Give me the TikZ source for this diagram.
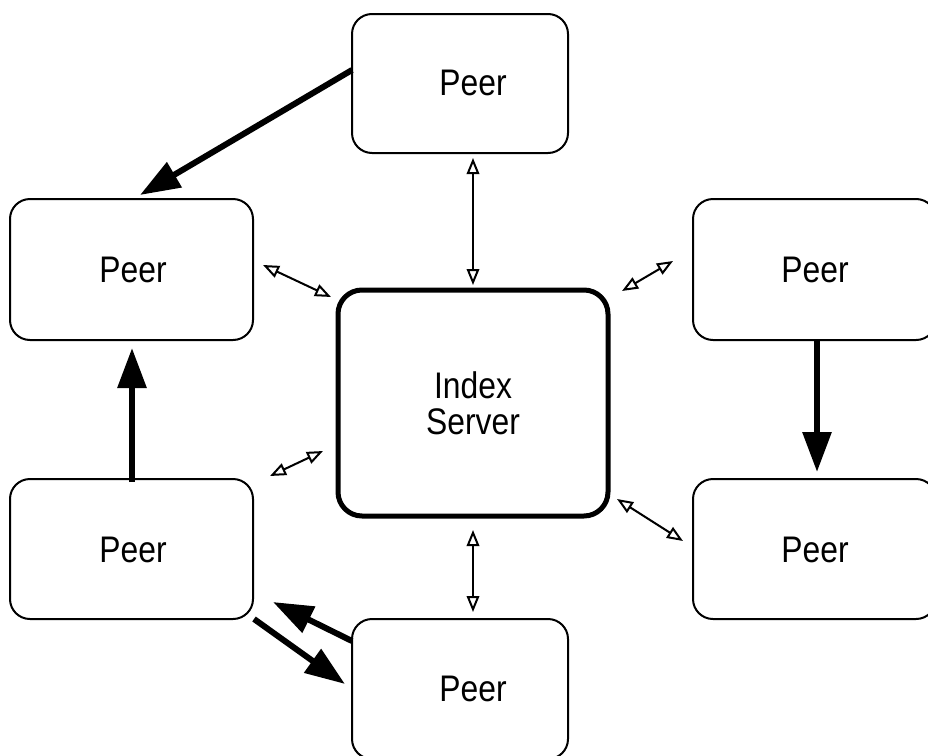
\documentclass[tikz,border=0pt]{standalone}
\usepackage{fontspec}
\setmainfont{Liberation Sans}[FakeStretch=0.86]
\usetikzlibrary{arrows.meta}
\begin{document}
\begin{tikzpicture}[x=1pt,y=-1pt,
  peerbox/.style={draw,line width=2pt,rounded corners=20pt,inner sep=0pt},
  serverbox/.style={draw,line width=5pt,rounded corners=24pt,inner sep=0pt,
    minimum width=270pt,minimum height=226pt},
  lbl/.style={font=\fontsize{37}{36}\selectfont,align=center,inner sep=0pt},
  link/.style={line width=2pt,
    {Triangle[open,length=16pt,width=12.5pt]}-{Triangle[open,length=16pt,width=12.5pt]}},
  flow/.style={line width=6pt,-{Triangle[length=40pt,width=28pt]}}]
\useasboundingbox (0,0) rectangle (928,755);
\clip (0,0) rectangle (928,755);

% peer boxes
\node[peerbox,minimum width=216pt,minimum height=139pt] (ptop) at (460,83.5) {};
\node[peerbox,minimum width=243pt,minimum height=141pt] (pleft) at (131.5,269.5) {};
\node[peerbox,minimum width=243pt,minimum height=141pt] (pright) at (814.5,269.5) {};
\node[peerbox,minimum width=243pt,minimum height=140pt] (pbl) at (131.5,549) {};
\node[peerbox,minimum width=243pt,minimum height=140pt] (pbr) at (814.5,549) {};
\node[peerbox,minimum width=216pt,minimum height=140pt] (pbot) at (460,689) {};
\node[serverbox] (srv) at (473,403) {};

% labels
\node[lbl] (tptop) at (473,83) {Peer};
\node[lbl] (tpleft) at (133,270) {Peer};
\node[lbl] (tpright) at (815,270) {Peer};
\node[lbl] (tpbl) at (133,550) {Peer};
\node[lbl] (tpbr) at (815,550) {Peer};
\node[lbl] (tpbot) at (473,689) {Peer};
\node[lbl] (tsrv) at (473,403) {Index\\Server};

% connector end points
\coordinate (a1) at (352,70);   \coordinate (a2) at (140,195);
\coordinate (b1) at (132,482);  \coordinate (b2) at (132,348);
\coordinate (c1) at (817,340);  \coordinate (c2) at (817,472);
\coordinate (d1) at (352,641);  \coordinate (d2) at (273,602);
\coordinate (e1) at (254,619);  \coordinate (e2) at (345,684);

\coordinate (l1a) at (473,158); \coordinate (l1b) at (473,285);
\coordinate (l2a) at (263,265); \coordinate (l2b) at (331,297);
\coordinate (l3a) at (622,291); \coordinate (l3b) at (673,261);
\coordinate (l4a) at (270,476); \coordinate (l4b) at (323,451);
\coordinate (l5a) at (617,499); \coordinate (l5b) at (683,541);
\coordinate (l6a) at (473,530); \coordinate (l6b) at (473,612);

% peer-to-peer transfers
\draw[flow] (a1) -- (a2);
\draw[flow] (b1) -- (b2);
\draw[flow] (c1) -- (c2);
\draw[flow] (d1) -- (d2);
\draw[flow] (e1) -- (e2);

% index server queries
\draw[link] (l1a) -- (l1b);
\draw[link] (l2a) -- (l2b);
\draw[link] (l3a) -- (l3b);
\draw[link] (l4a) -- (l4b);
\draw[link] (l5a) -- (l5b);
\draw[link] (l6a) -- (l6b);
\end{tikzpicture}
\end{document}
